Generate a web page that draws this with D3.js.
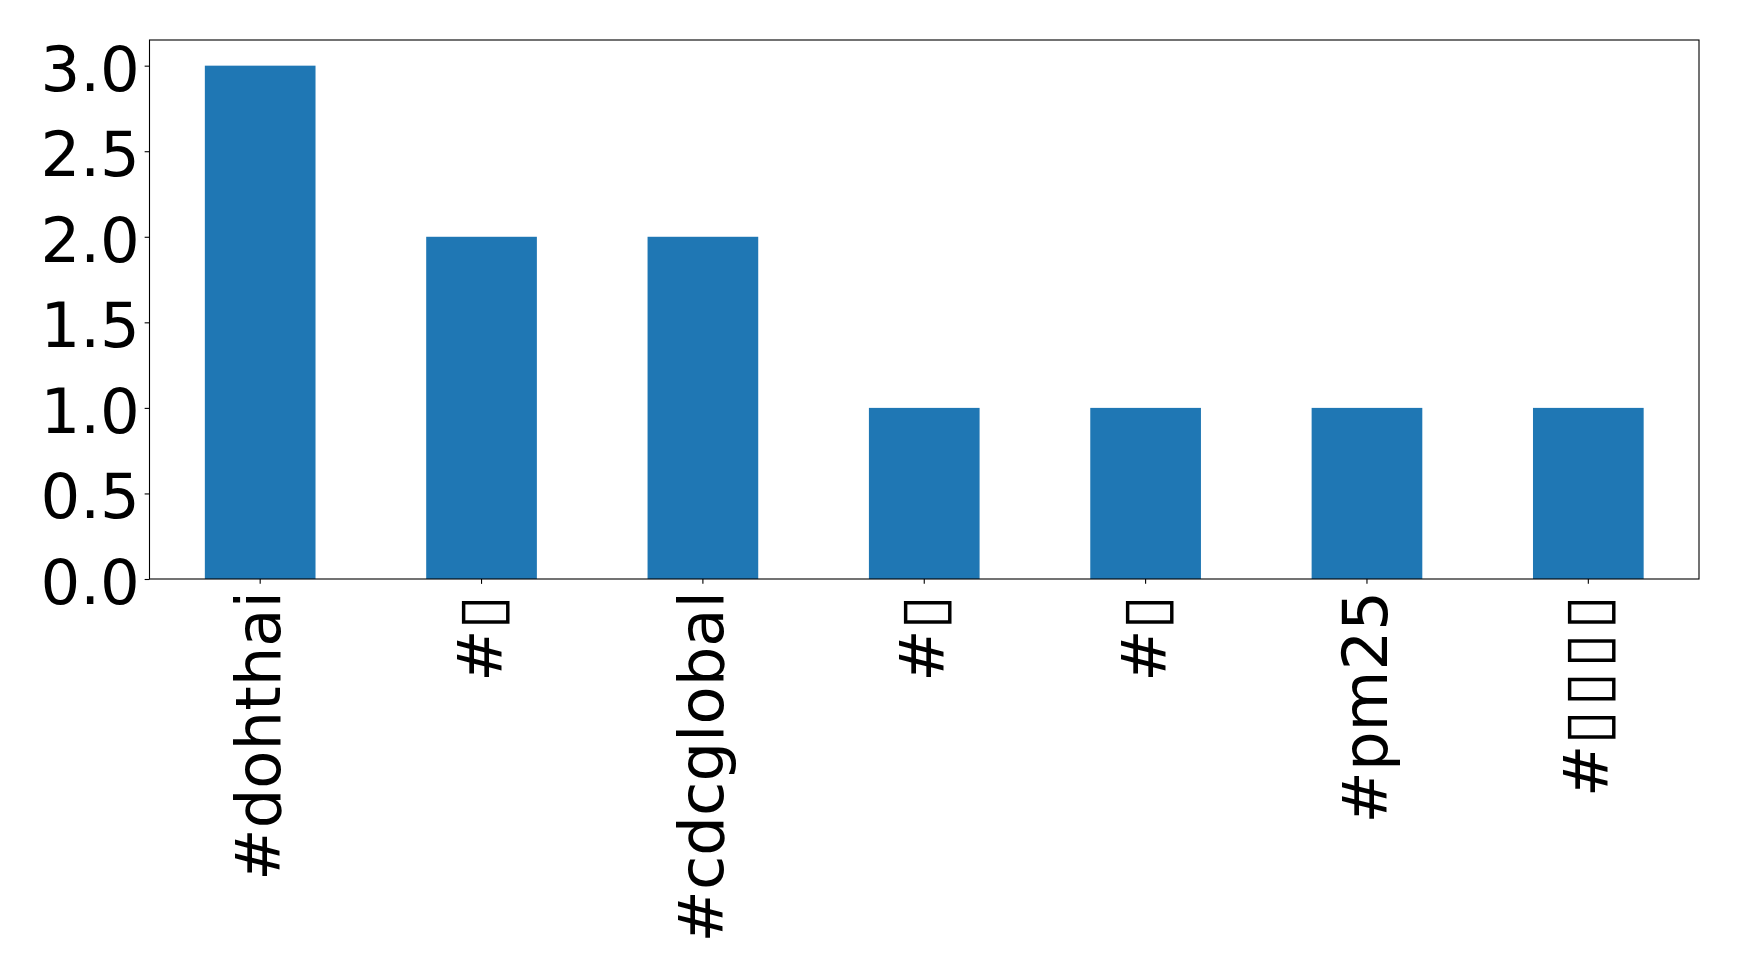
<!DOCTYPE html>
<html>
<head>
<meta charset="utf-8">
<script src="https://cdn.jsdelivr.net/npm/d3@7"></script>
<style>
  html, body { margin: 0; padding: 0; background: #fff; }
  svg { display: block; }
</style>
</head>
<body>
<svg id="chart" width="1739" height="980"></svg>
<script>
const categories = ["#dohthai", "#▯", "#cdcglobal", "#▯", "#▯", "#pm25", "#▯▯▯▯"];
const values = [3, 2, 2, 1, 1, 1, 1];
const yTicks = [0, 0.5, 1.0, 1.5, 2.0, 2.5, 3.0];

const W = 1739, H = 980;
const margin = { left: 149.5, right: 40, top: 40, bottom: 401 };
const plotW = W - margin.left - margin.right;
const plotH = H - margin.top - margin.bottom;
const fontFamily = "'DejaVu Sans', sans-serif";
const fontSize = 62.5;

const svg = d3.select("#chart");
const g = svg.append("g").attr("transform", `translate(${margin.left},${margin.top})`);

const x = d3.scaleBand()
  .domain(d3.range(categories.length))
  .range([0, plotW])
  .paddingInner(0.5)
  .paddingOuter(0.25);

const y = d3.scaleLinear()
  .domain([0, 3.15])
  .range([plotH, 0]);

g.selectAll("rect.bar")
  .data(values)
  .enter().append("rect")
  .attr("class", "bar")
  .attr("x", (d, i) => x(i))
  .attr("width", x.bandwidth())
  .attr("y", d => y(d))
  .attr("height", d => y(0) - y(d))
  .attr("fill", "#1f77b4");

// frame
g.append("rect")
  .attr("x", 0).attr("y", 0)
  .attr("width", plotW).attr("height", plotH)
  .attr("fill", "none")
  .attr("stroke", "#000")
  .attr("stroke-width", 1.1);

// y axis
const yAxis = g.append("g")
  .call(d3.axisLeft(y).tickValues(yTicks).tickFormat(d3.format(".1f")).tickSize(4.86).tickPadding(4.86));
yAxis.select(".domain").remove();
yAxis.selectAll(".tick line").attr("stroke", "#000").attr("stroke-width", 1.1);
yAxis.selectAll(".tick text")
  .attr("fill", "#000")
  .attr("font-family", fontFamily)
  .attr("font-size", fontSize)
  .attr("dy", "0.39em");

// x axis
const xAxis = g.append("g")
  .attr("transform", `translate(0,${plotH})`)
  .call(d3.axisBottom(x).tickFormat(i => categories[i]).tickSize(4.86).tickPadding(0));
xAxis.select(".domain").remove();
xAxis.selectAll(".tick line").attr("stroke", "#000").attr("stroke-width", 1.1);
const xt = xAxis.selectAll(".tick text")
  .attr("fill", "#000")
  .attr("font-family", fontFamily)
  .attr("font-size", fontSize)
  .attr("text-anchor", "end")
  .attr("x", 0)
  .attr("y", 0)
  .attr("dy", "0.32em")
  .attr("transform", "translate(0,12) rotate(-90)");

// widen the missing-glyph boxes slightly, as in the reference rendering
xt.each(function(i) {
  const label = categories[i];
  if (label.indexOf("▯") < 0) return;
  const t = d3.select(this).text(null);
  const first = label.indexOf("▯");
  t.append("tspan").text(label.slice(0, first));
  t.append("tspan").attr("letter-spacing", "4px").text(label.slice(first));
});
</script>
</body>
</html>
